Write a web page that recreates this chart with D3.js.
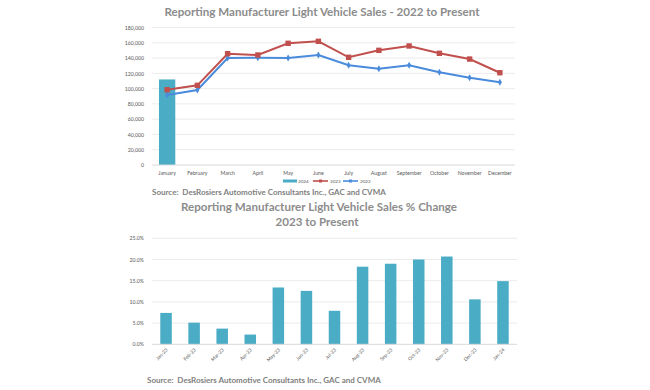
<!DOCTYPE html>
<html><head><meta charset="utf-8">
<script src="https://cdn.jsdelivr.net/npm/d3@7"></script>
<style>
html,body{margin:0;padding:0;background:#fff;}
svg{display:block;font-family:Lato,"Open Sans",sans-serif;}
.pre{white-space:pre;}
</style></head>
<body>
<svg id="c" width="650" height="390"></svg>
<script>
// ---- Data: chart 1 ----
const months = ["January","February","March","April","May","June","July","August","September","October","November","December"];
const sales2024 = [112000];
const sales2023 = [98500,104300,145700,144000,159300,161900,141000,150100,155800,146200,138700,120800];
const sales2022 = [91600,98200,140000,140500,140200,144000,130500,126100,130500,121300,114300,108200];
const yTicks1 = [0,20000,40000,60000,80000,100000,120000,140000,160000,180000];
const seriesNames = ["2024","2023","2022"];
// ---- Data: chart 2 ----
const pctLabels = ["Jan-23","Feb-23","Mar-23","Apr-23","May-23","Jun-23","Jul-23","Aug-23","Sep-23","Oct-23","Nov-23","Dec-23","Jan-24"];
const pctValues = [7.4,5.1,3.7,2.3,13.4,12.6,7.9,18.3,19.0,20.0,20.7,10.6,14.9];
const yTicks2 = [0,5,10,15,20,25];

const title1 = "Reporting Manufacturer Light Vehicle Sales - 2022 to Present";
const title2a = "Reporting Manufacturer Light Vehicle Sales % Change";
const title2b = "2023 to Present";
const source = "Source:  DesRosiers Automotive Consultants Inc., GAC and CVMA";

const C_BAR = "#4bacc6", C_RED = "#c0504d", C_BLUE = "#4a8bdc";
const C_TITLE = "#8c8c8c", C_TXT = "#595959", C_GRID = "#e6e6e6";

const svg = d3.select("#c");

// ===== Chart 1 =====
const g1 = svg.append("g");
const x1 = d3.scaleBand().domain(months).range([152, 515]);
const y1 = d3.scaleLinear().domain([0,180000]).range([165, 27.5]);

g1.append("text").attr("x",322).attr("y",16).attr("text-anchor","middle")
  .attr("font-size",11.6).attr("font-weight","bold").attr("fill",C_TITLE).text(title1);

g1.append("g").selectAll("line").data(yTicks1.filter(d=>d>0)).join("line")
  .attr("x1",152).attr("x2",515).attr("y1",d=>y1(d)).attr("y2",d=>y1(d))
  .attr("stroke",C_GRID).attr("stroke-width",0.8);

const ya1 = g1.append("g").attr("transform","translate(147,0)")
  .call(d3.axisLeft(y1).tickValues(yTicks1).tickSize(0).tickFormat(d3.format(",")));
ya1.select(".domain").remove();
ya1.selectAll("text").attr("font-size",5.2).attr("fill",C_TXT).attr("font-family","Lato,sans-serif");

// bars 2024
g1.append("g").selectAll("rect").data(sales2024).join("rect")
  .attr("x",(d,i)=>x1(months[i])+x1.bandwidth()*0.23)
  .attr("width",x1.bandwidth()*0.54)
  .attr("y",d=>y1(d)).attr("height",d=>y1(0)-y1(d)).attr("fill",C_BAR);

// baseline
g1.append("line").attr("x1",152).attr("x2",515).attr("y1",y1(0)).attr("y2",y1(0))
  .attr("stroke","#d9d9d9").attr("stroke-width",1.2);

const xa1 = g1.append("g").attr("transform",`translate(0,${y1(0)+3})`)
  .call(d3.axisBottom(x1).tickSize(0));
xa1.select(".domain").remove();
xa1.selectAll("text").attr("font-size",5.2).attr("fill",C_TXT).attr("font-family","Lato,sans-serif");

const line1 = d3.line().x((d,i)=>x1(months[i])+x1.bandwidth()/2).y(d=>y1(d));
g1.append("path").datum(sales2022).attr("d",line1).attr("fill","none").attr("stroke",C_BLUE).attr("stroke-width",2);
g1.append("path").datum(sales2023).attr("d",line1).attr("fill","none").attr("stroke",C_RED).attr("stroke-width",2);
g1.append("g").selectAll("path").data(sales2022).join("path")
  .attr("transform",(d,i)=>`translate(${x1(months[i])+x1.bandwidth()/2},${y1(d)})`)
  .attr("d",d3.symbol(d3.symbolDiamond,14)).attr("fill",C_BLUE);
g1.append("g").selectAll("rect").data(sales2023).join("rect")
  .attr("x",(d,i)=>x1(months[i])+x1.bandwidth()/2-2.7).attr("y",d=>y1(d)-2.7)
  .attr("width",5.4).attr("height",5.4).attr("fill",C_RED);

// legend
const lg = g1.append("g").attr("font-size",4.6).attr("fill",C_TXT);
const legItems = [{n:seriesNames[0],c:C_BAR,x:283,t:"bar"},{n:seriesNames[1],c:C_RED,x:313,t:"line"},{n:seriesNames[2],c:C_BLUE,x:343,t:"line"}];
legItems.forEach(it=>{
  if(it.t==="bar") lg.append("rect").attr("x",it.x).attr("y",179.5).attr("width",14).attr("height",3).attr("fill",it.c);
  else {
    lg.append("line").attr("x1",it.x).attr("x2",it.x+15).attr("y1",181).attr("y2",181).attr("stroke",it.c).attr("stroke-width",1.6);
    lg.append("rect").attr("x",it.x+6).attr("y",179.5).attr("width",3).attr("height",3).attr("fill",it.c);
  }
  lg.append("text").attr("x",it.x+(it.t==="bar"?15:17)).attr("y",182.6).text(it.n);
});

g1.append("text").attr("class","pre").attr("x",152).attr("y",194.5).attr("font-size",8).attr("font-weight","bold")
  .attr("fill","#7f7f7f").text(source);

// ===== Chart 2 =====
const g2 = svg.append("g");
g2.append("text").attr("x",319).attr("y",211).attr("text-anchor","middle")
  .attr("font-size",11.6).attr("font-weight","bold").attr("fill",C_TITLE).text(title2a);
g2.append("text").attr("x",317).attr("y",226).attr("text-anchor","middle")
  .attr("font-size",11.6).attr("font-weight","bold").attr("fill",C_TITLE).text(title2b);

const x2 = d3.scaleBand().domain(pctLabels).range([152, 517]).paddingInner(0.59).paddingOuter(0.295);
const y2 = d3.scaleLinear().domain([0,25]).range([344.3, 238.3]);

g2.append("g").selectAll("line").data(yTicks2.filter(d=>d>0)).join("line")
  .attr("x1",152).attr("x2",517).attr("y1",d=>y2(d)).attr("y2",d=>y2(d))
  .attr("stroke",C_GRID).attr("stroke-width",0.8);

const ya2 = g2.append("g").attr("transform","translate(147,0)")
  .call(d3.axisLeft(y2).tickValues(yTicks2).tickSize(0).tickFormat(d=>d3.format(".1f")(d)+"%"));
ya2.select(".domain").remove();
ya2.selectAll("text").attr("font-size",5.2).attr("fill",C_TXT).attr("font-family","Lato,sans-serif");

g2.append("g").selectAll("rect").data(pctValues).join("rect")
  .attr("x",(d,i)=>x2(pctLabels[i])).attr("width",x2.bandwidth())
  .attr("y",d=>y2(d)).attr("height",d=>y2(0)-y2(d)).attr("fill",C_BAR);

g2.append("line").attr("x1",152).attr("x2",517).attr("y1",y2(0)).attr("y2",y2(0))
  .attr("stroke","#d9d9d9").attr("stroke-width",1);

const xa2 = g2.append("g").attr("transform",`translate(0,${y2(0)})`)
  .call(d3.axisBottom(x2).tickSize(0));
xa2.select(".domain").remove();
xa2.selectAll("text").attr("font-size",4.8).attr("fill",C_TXT).attr("font-family","Lato,sans-serif")
  .attr("text-anchor","end").attr("dy",0).attr("y",0)
  .attr("transform","translate(2,6) rotate(-45)");

g2.append("text").attr("class","pre").attr("x",147).attr("y",382.5).attr("font-size",8).attr("font-weight","bold")
  .attr("fill","#7f7f7f").text(source);
</script>
</body></html>
